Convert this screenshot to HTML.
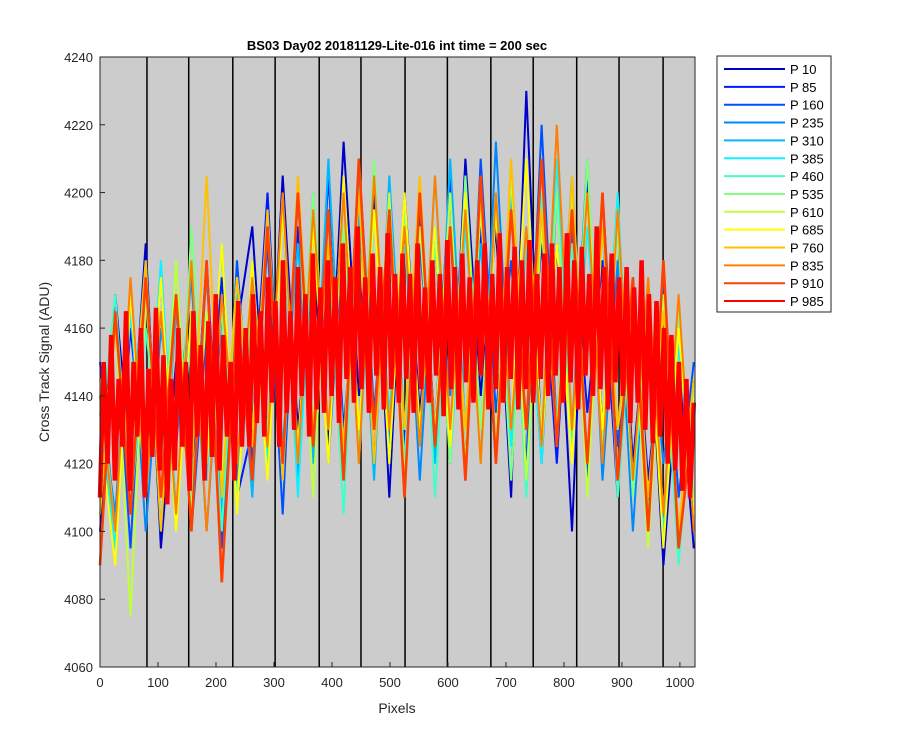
<!DOCTYPE html>
<html><head><meta charset="utf-8"><style>
body{margin:0;background:#fff;}
svg{font-family:"Liberation Sans",Arial,sans-serif;}
</style></head><body>
<svg id="chart" width="900" height="750"></svg>
<script>
const xTicks=[0,100,200,300,400,500,600,700,800,900,1000];
const yTicks=[4060,4080,4100,4120,4140,4160,4180,4200,4220,4240];
const boundaries=[81,153,229,302,378,450,526,599,674,747,822,895,971];
const seriesNames=["P 10","P 85","P 160","P 235","P 310","P 385","P 460","P 535","P 610","P 685","P 760","P 835","P 910","P 985"];
const seriesColors=["#0000c8","#0018ff","#0050ff","#0088ff","#00b8ff","#10f0ff","#40ffc8","#80ff80","#c0ff40","#ffff00","#ffc000","#ff8000","#ff4000","#ff0000"];
const s0=[4100,4170,4120,4185,4095,4150,4110,4180,4100,4160,4190,4120,4205,4130,4180,4125,4215,4140,4200,4110,4200,4135,4185,4120,4210,4140,4190,4110,4230,4125,4185,4100,4205,4130,4195,4120,4170,4090,4150,4095];
const s1=[4150,4100,4160,4115,4175,4105,4165,4120,4175,4110,4130,4200,4120,4190,4125,4205,4130,4185,4120,4200,4125,4195,4130,4205,4120,4190,4120,4200,4130,4185,4120,4195,4135,4180,4110,4175,4115,4160,4100,4140];
const s2=[4120,4165,4095,4175,4110,4170,4100,4160,4095,4180,4120,4185,4105,4200,4130,4180,4120,4210,4135,4190,4120,4185,4130,4200,4115,4210,4135,4180,4120,4220,4130,4190,4115,4200,4125,4160,4105,4175,4110,4150];
const s3=[4140,4105,4170,4100,4160,4125,4175,4100,4165,4115,4175,4130,4195,4115,4200,4120,4190,4130,4205,4125,4195,4115,4190,4140,4200,4120,4215,4130,4185,4120,4200,4130,4210,4115,4180,4100,4170,4120,4160,4105];
const s4=[4110,4160,4125,4180,4100,4165,4120,4175,4105,4170,4110,4195,4125,4185,4120,4210,4125,4195,4115,4205,4130,4190,4120,4210,4130,4185,4125,4200,4115,4195,4130,4205,4120,4190,4115,4165,4100,4180,4095,4140];
const s5=[4135,4095,4165,4110,4180,4105,4160,4115,4185,4105,4180,4120,4200,4110,4190,4130,4200,4120,4195,4135,4185,4125,4205,4120,4190,4130,4200,4125,4185,4120,4210,4125,4190,4130,4200,4110,4165,4100,4155,4110];
const s6=[4125,4170,4105,4160,4120,4180,4110,4165,4100,4175,4125,4190,4115,4200,4125,4185,4105,4205,4130,4195,4120,4200,4110,4190,4130,4205,4120,4195,4110,4200,4130,4185,4120,4200,4110,4170,4105,4160,4090,4145];
const s7=[4145,4100,4170,4115,4165,4100,4190,4120,4165,4110,4170,4130,4195,4120,4200,4130,4190,4125,4210,4120,4195,4130,4185,4120,4205,4130,4195,4115,4190,4130,4200,4120,4210,4125,4190,4110,4175,4105,4165,4110];
const s8=[4115,4165,4075,4170,4110,4180,4105,4165,4115,4175,4130,4190,4120,4200,4110,4195,4120,4185,4130,4200,4115,4190,4130,4200,4120,4195,4125,4205,4115,4190,4130,4200,4110,4190,4130,4165,4095,4170,4100,4140];
const s9=[4130,4090,4170,4110,4175,4100,4165,4120,4185,4105,4180,4115,4195,4125,4190,4120,4205,4130,4195,4120,4200,4130,4190,4125,4200,4120,4195,4130,4210,4125,4185,4120,4200,4130,4195,4115,4170,4095,4160,4105];
const s10=[4105,4160,4120,4180,4100,4170,4115,4205,4110,4175,4125,4195,4115,4205,4130,4185,4125,4200,4120,4195,4130,4205,4125,4190,4130,4200,4120,4210,4130,4195,4125,4205,4120,4190,4130,4175,4110,4165,4100,4145];
const s11=[4140,4100,4175,4110,4165,4105,4180,4100,4170,4120,4175,4125,4200,4120,4195,4130,4200,4120,4205,4130,4190,4125,4205,4130,4195,4120,4200,4130,4190,4125,4220,4130,4200,4120,4195,4115,4175,4105,4170,4100];
const s12=[4090,4165,4105,4175,4110,4170,4100,4180,4085,4165,4115,4190,4120,4200,4125,4195,4115,4210,4130,4195,4110,4200,4125,4190,4115,4205,4120,4195,4130,4210,4125,4195,4120,4200,4115,4175,4100,4180,4095,4135];
const s13=[4110,4150,4120,4158,4115,4145,4125,4165,4112,4150,4128,4160,4110,4148,4122,4166,4118,4152,4108,4145,
4118,4160,4125,4150,4112,4165,4128,4155,4115,4162,4122,4170,4118,4158,4128,4150,4115,4168,4125,4160,
4125,4170,4132,4165,4128,4175,4138,4168,4125,4180,4135,4165,4130,4178,4140,4170,4128,4182,4136,4172,
4135,4180,4140,4175,4132,4185,4145,4178,4138,4190,4142,4175,4135,4182,4146,4178,4136,4188,4142,4176,
4138,4182,4145,4176,4135,4185,4142,4172,4138,4180,4146,4176,4134,4186,4142,4178,4136,4182,4144,4175,
4138,4180,4146,4185,4136,4176,4142,4188,4138,4178,4145,4184,4136,4180,4142,4186,4138,4176,4145,4182,
4140,4185,4146,4178,4138,4188,4144,4180,4136,4184,4146,4176,4140,4190,4142,4178,4136,4182,4144,4175,
4140,4178,4132,4172,4138,4180,4130,4170,4126,4168,4128,4160,4120,4158,4118,4150,4112,4145,4110,4138];
const seriesValues=[s0,s1,s2,s3,s4,s5,s6,s7,s8,s9,s10,s11,s12,s13];

const NS="http://www.w3.org/2000/svg";
const svg=document.getElementById('chart');
const L=100,R=695,T=57,B=667,XMAX=1026;
const xs=v=>L+(R-L)*v/XMAX;
const ys=v=>B-(B-T)*(v-4060)/180;
function mk(tag,attrs,parent){const e=document.createElementNS(NS,tag);for(const k in attrs)e.setAttribute(k,attrs[k]);(parent||svg).appendChild(e);return e;}

const bg=mk('rect',{x:L,y:T,width:R-L,height:B-T,fill:'#cccccc'});



boundaries.forEach(b=>{
  const l=mk('line',{x1:xs(b),x2:xs(b),y1:T,y2:B,stroke:'#000','stroke-width':1.5});
  
  
});

seriesValues.forEach((arr,si)=>{
  const n=arr.length;
  const pts=arr.map((v,i)=>xs(i*(XMAX-2)/(n-1)).toFixed(1)+','+ys(v).toFixed(1)).join(' ');
  const w=si===13?4.5:(si===12?2.6:2);
  const p=mk('polyline',{points:pts,fill:'none',stroke:seriesColors[si],'stroke-width':w});
  
  
});

const frame=mk('rect',{x:L,y:T,width:R-L,height:B-T,fill:'none',stroke:'#262626','stroke-width':1});



xTicks.forEach(t=>{
  mk('line',{x1:xs(t),x2:xs(t),y1:B,y2:B-5,stroke:'#262626'});
  const tx=mk('text',{x:xs(t),y:B+20,'text-anchor':'middle','font-size':13,fill:'#262626'});
  tx.textContent=t;
  
  
});
yTicks.forEach(t=>{
  mk('line',{x1:L,x2:L+5,y1:ys(t),y2:ys(t),stroke:'#262626'});
  const tx=mk('text',{x:L-7,y:ys(t)+5,'text-anchor':'end','font-size':13,fill:'#262626'});
  tx.textContent=t;
  
  
});

const title=mk('text',{x:397,y:50,'text-anchor':'middle','font-size':13,'font-weight':'bold',fill:'#000'});
title.textContent='BS03 Day02 20181129-Lite-016 int time = 200 sec';


const xl=mk('text',{x:397,y:713,'text-anchor':'middle','font-size':14,fill:'#262626'});
xl.textContent='Pixels';


const yl=mk('text',{x:0,y:0,'text-anchor':'middle','font-size':14,fill:'#262626',transform:'translate(49,362) rotate(-90)'});
yl.textContent='Cross Track Signal (ADU)';



const lg=mk('g',{});


mk('rect',{x:717,y:56,width:114,height:256,fill:'#fff',stroke:'#262626','stroke-width':1},lg);
seriesNames.forEach((nm,i)=>{
  const y=69+i*17.85;
  const g=mk('g',{},lg);
  
  
  mk('line',{x1:724,x2:785,y1:y,y2:y,stroke:seriesColors[i],'stroke-width':2},g);
  const t=mk('text',{x:790,y:y+5,'font-size':13,fill:'#000'},g);
  t.textContent=nm;
});
</script>
</body></html>
